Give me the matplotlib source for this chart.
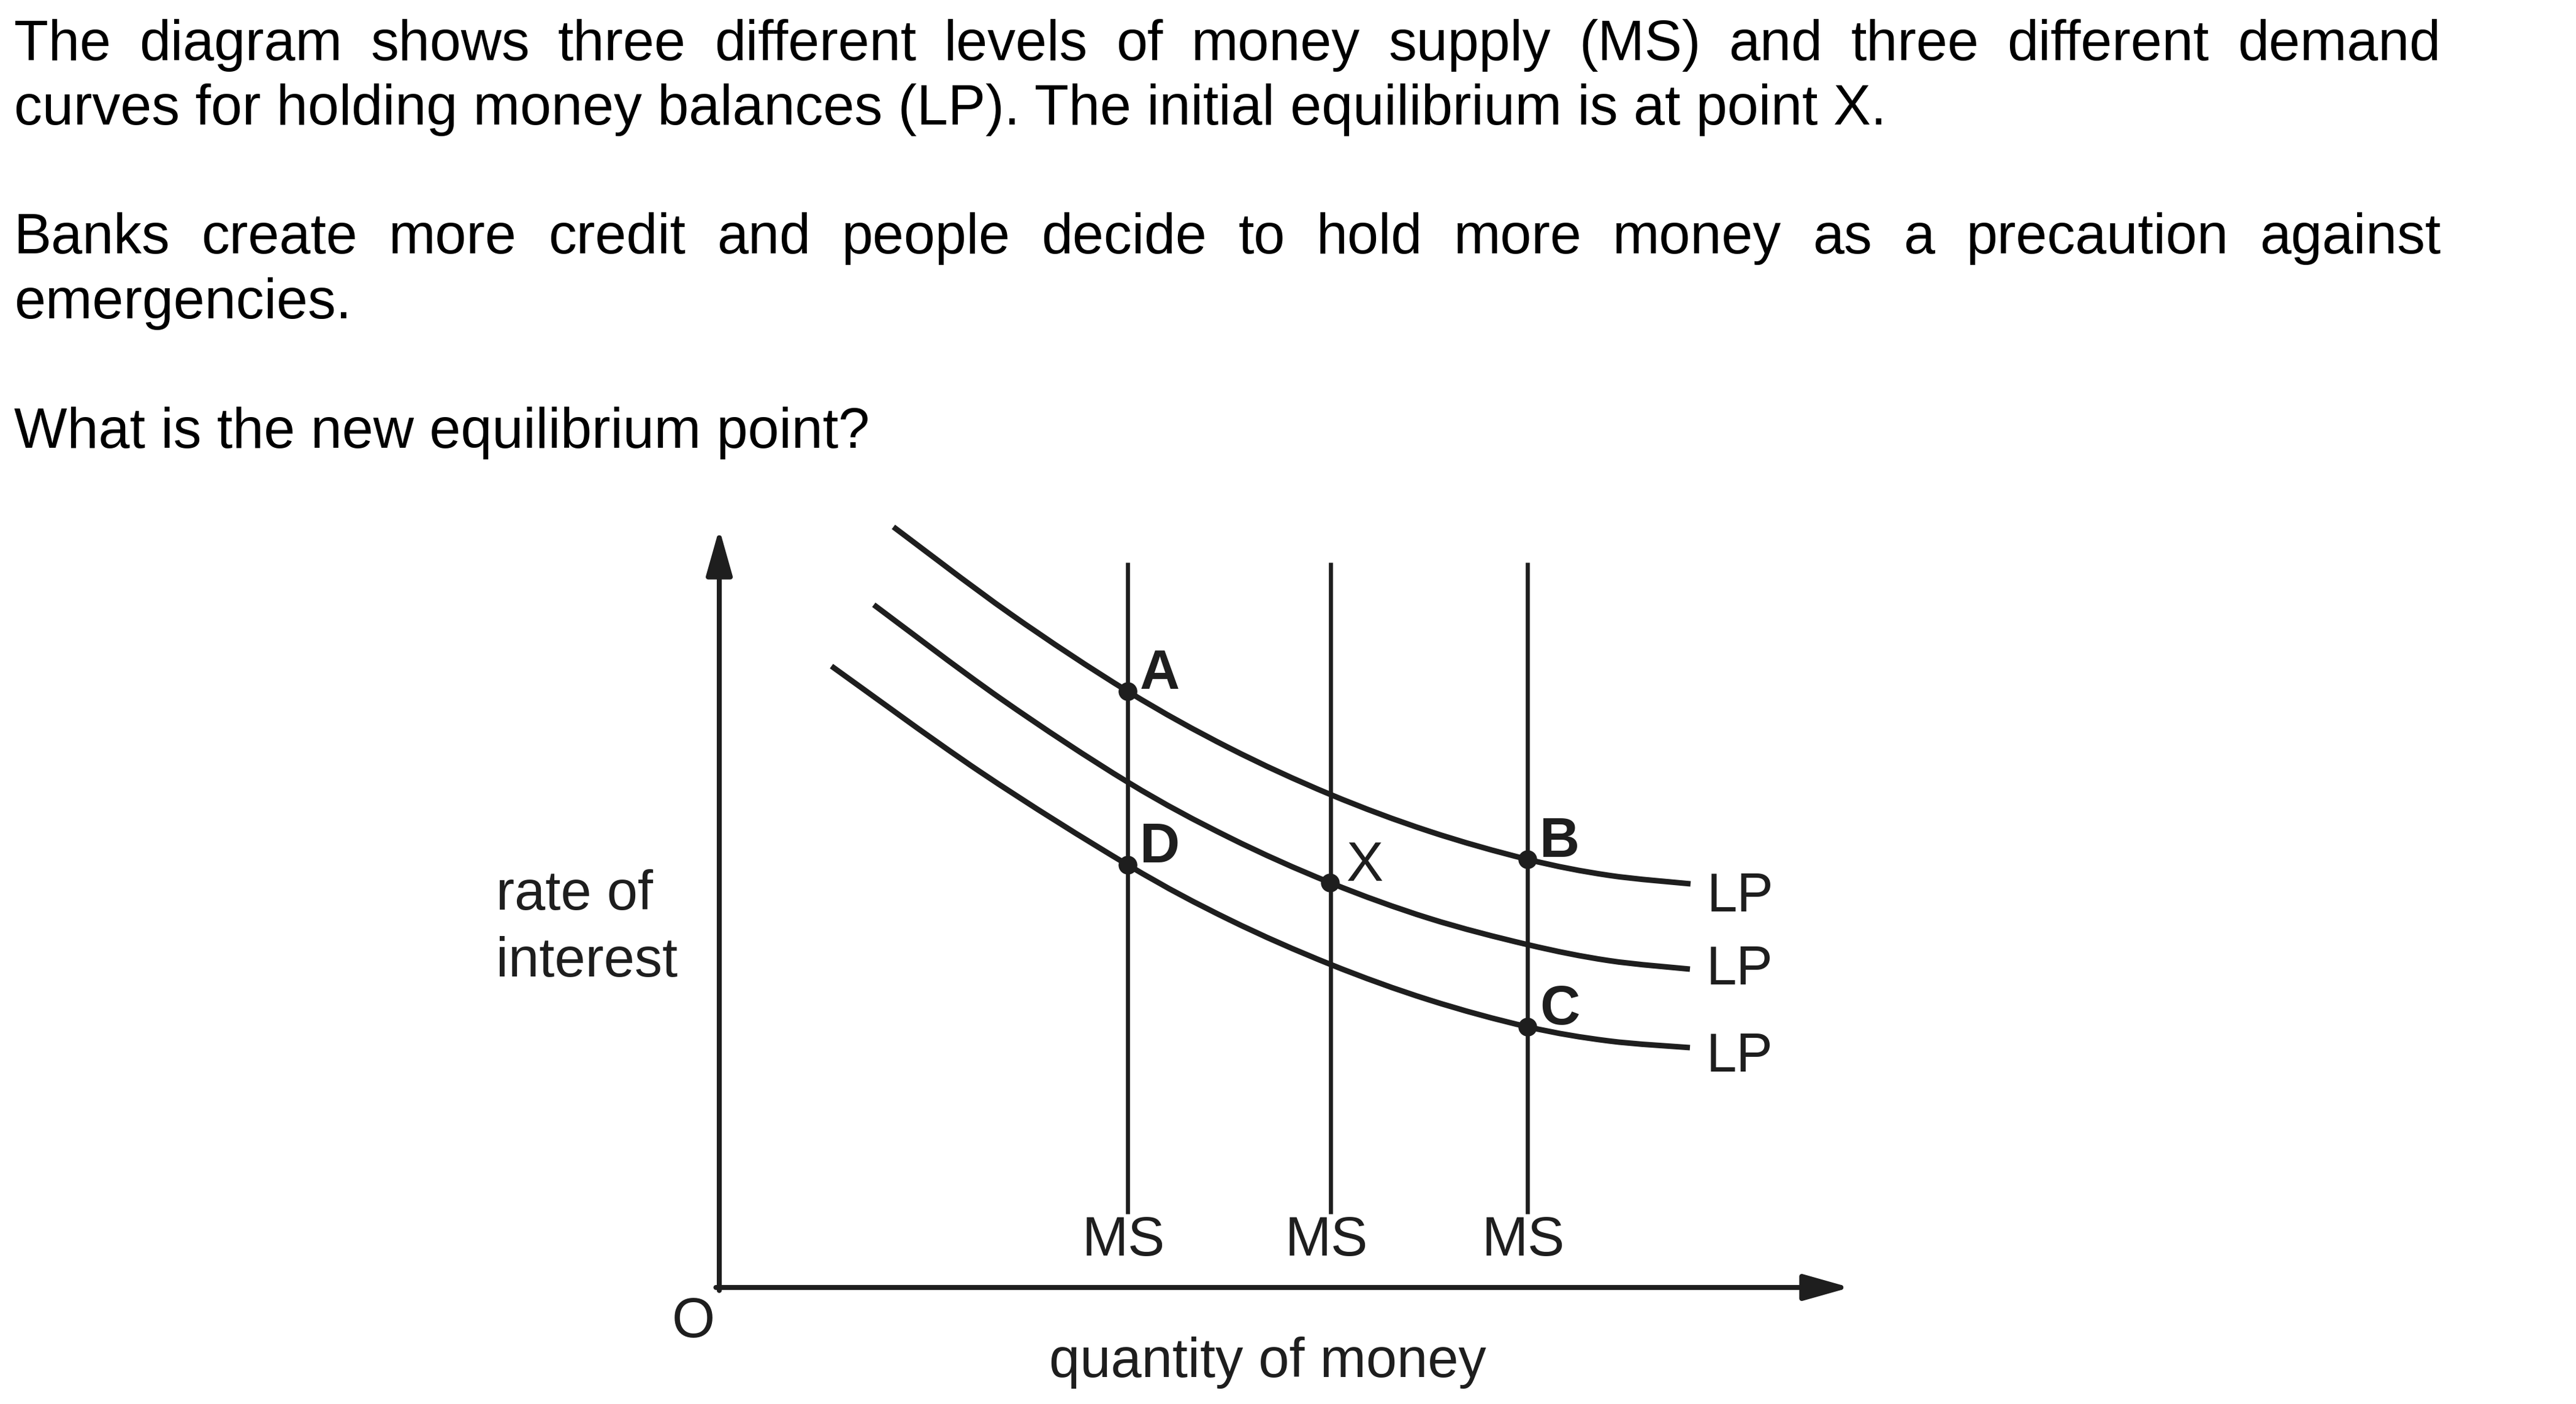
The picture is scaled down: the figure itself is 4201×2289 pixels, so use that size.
import matplotlib
matplotlib.use("Agg")
import matplotlib.pyplot as plt
from matplotlib.path import Path
from matplotlib.patches import PathPatch

plt.rcParams['font.family'] = ['Liberation Sans', 'DejaVu Sans']

W, H = 4201, 2289
INK = '#1e1e1e'

question = [
	("The diagram shows three different levels of money supply (MS) and three different demand", 98, True),
	("curves for holding money balances (LP). The initial equilibrium is at point X.", 203, False),
	("Banks create more credit and people decide to hold more money as a precaution against", 413, True),
	("emergencies.", 519, False),
	("What is the new equilibrium point?", 730, False),
]

# money supply levels (quantity units)
ms_q = [6.66, 9.97, 13.18]
ms_bottom, ms_top = 1.20, 11.82

# liquidity preference curves
lp_high_q = [2.84, 4.75, 6.66, 8.31, 9.96, 11.57, 13.18, 14.50, 15.84]
lp_high_r = [12.40, 10.98, 9.72, 8.80, 8.04, 7.44, 6.98, 6.72, 6.58]
lp_mid_q = [2.52, 4.59, 6.66, 8.31, 9.96, 11.57, 13.18, 14.50, 15.83]
lp_mid_r = [11.13, 9.60, 8.24, 7.34, 6.60, 6.02, 5.59, 5.33, 5.19]
lp_low_q = [1.83, 4.25, 6.66, 8.31, 9.96, 11.57, 13.18, 14.50, 15.83]
lp_low_r = [10.13, 8.41, 6.89, 6.00, 5.27, 4.69, 4.25, 4.02, 3.91]
lp_label_r = [6.13, 4.94, 3.52]

# equilibrium points
pt_names = ['A', 'D', 'X', 'B', 'C']
pt_q = [6.66, 6.66, 9.96, 13.18, 13.18]
pt_r = [9.72, 6.89, 6.60, 6.98, 4.25]
pt_bold = [True, True, False, True, True]


def justify(fig, line, y_px, left, right, size):
	words = line.split()
	r = fig.canvas.get_renderer()
	items = []
	for w in words:
		items.append(fig.text(0, 1 - y_px / H, w, fontsize=size, va='baseline', color='black'))
	widths = [t.get_window_extent(r).width for t in items]
	gap = (right - left - sum(widths)) / (len(words) - 1)
	x = left
	for t, wd in zip(items, widths):
		t.set_x(x / W)
		x += wd + gap


def smooth(qs, rs):
	# catmull-rom through the read points, drawn as bezier segments
	pts = list(zip(qs, rs))
	verts = [pts[0]]
	codes = [Path.MOVETO]
	n = len(pts)
	for i in range(n - 1):
		p0 = pts[max(i - 1, 0)]
		p1 = pts[i]
		p2 = pts[i + 1]
		p3 = pts[min(i + 2, n - 1)]
		c1 = (p1[0] + (p2[0] - p0[0]) / 6, p1[1] + (p2[1] - p0[1]) / 6)
		c2 = (p2[0] - (p3[0] - p1[0]) / 6, p2[1] - (p3[1] - p1[1]) / 6)
		verts += [c1, c2, p2]
		codes += [Path.CURVE4] * 3
	return Path(verts, codes)


fig = plt.figure(figsize=(W / 100, H / 100), dpi=100)
fig.patch.set_facecolor('white')

for line, y, just in question:
	if just:
		justify(fig, line, y, 23, 3980, 66)
	else:
		fig.text(23 / W, 1 - y / H, line, fontsize=66, va='baseline', color='black')

# diagram axes: origin at the corner of the two arrows, 100 px per unit
x0, y0, x1, y1 = 1173, 2099, 3017, 862
ax = fig.add_axes([x0 / W, (H - y0) / H, (x1 - x0) / W, (y0 - y1) / H])
ax.set_xlim(0, (x1 - x0) / 100)
ax.set_ylim(0, (y0 - y1) / 100)
ax.axis('off')

arrow = dict(arrowstyle='-|>,head_length=0.46,head_width=0.13', lw=5.8, color=INK,
			 shrinkA=0, shrinkB=0, mutation_scale=100)
ax.annotate('', xy=(1, 0), xytext=(-0.003, 0), xycoords='axes fraction', arrowprops=arrow)
ax.annotate('', xy=(0, 1), xytext=(0, -0.004), xycoords='axes fraction', arrowprops=arrow)

ax.vlines(ms_q, ms_bottom, ms_top, color=INK, lw=4.8)
for q in ms_q:
	ax.text(q - 0.07, 0.52, 'MS', fontsize=65, ha='center', va='baseline', color=INK)

curves = [(lp_high_q, lp_high_r), (lp_mid_q, lp_mid_r), (lp_low_q, lp_low_r)]
for (qs, rs), lr in zip(curves, lp_label_r):
	ax.add_patch(PathPatch(smooth(qs, rs), fill=False, edgecolor=INK, lw=6.5,
						   capstyle='butt', clip_on=False))
	ax.text(qs[-1] + 0.27, lr, 'LP', fontsize=64, ha='left', va='baseline', color=INK)

ax.plot(pt_q, pt_r, 'o', ms=21, color=INK, clip_on=False)
for name, q, r, bold in zip(pt_names, pt_q, pt_r, pt_bold):
	dx = 0.20 if bold else 0.27
	ax.text(q + dx, r + (0.04 if bold else 0.03), name, fontsize=65,
			fontweight='bold' if bold else 'normal', ha='left', va='baseline', color=INK)

ax.text(-3.64, 6.16, 'rate of', fontsize=65, ha='left', va='baseline', color=INK)
ax.text(-3.64, 5.07, 'interest', fontsize=65, ha='left', va='baseline', color=INK)
ax.text(-0.42, -0.81, 'O', fontsize=65, ha='center', va='baseline', color=INK)
ax.text(8.94, -1.46, 'quantity of money', fontsize=65, ha='center', va='baseline', color=INK)

fig.savefig('out.png', dpi=100)
